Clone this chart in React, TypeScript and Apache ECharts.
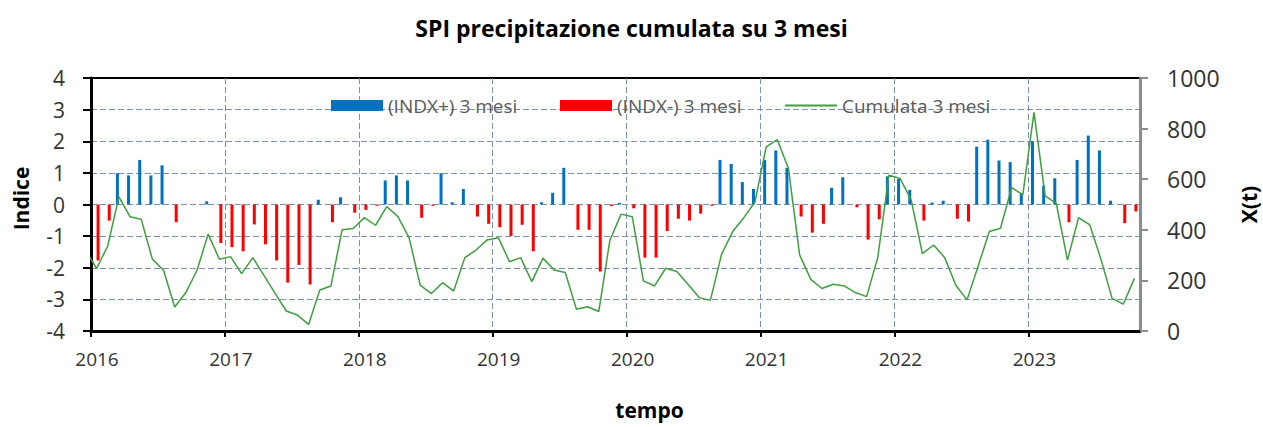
import React, { useEffect, useRef } from "react";
import * as echarts from "echarts";

// Monthly SPI (3 months), Jan 2016 .. Oct 2023 (signed: positive -> INDX+, negative -> INDX-)
const spi2016 = [-1.77, -0.51, 0.99, 0.92, 1.41, 0.92, 1.24, -0.56, 0, 0, 0.1, -1.22];
const spi2017 = [-1.35, -1.48, -0.63, -1.26, -1.77, -2.47, -1.91, -2.53, 0.15, -0.56, 0.23, -0.26];
const spi2018 = [-0.17, -0.04, 0.76, 0.92, 0.76, -0.42, -0.04, 0.99, 0.07, 0.49, -0.38, -0.61];
const spi2019 = [-0.72, -1.0, -0.64, -1.48, 0.07, 0.37, 1.16, -0.8, -0.8, -2.12, -0.05, 0.05];
const spi2020 = [-0.12, -1.68, -1.68, -0.84, -0.45, -0.51, -0.29, -0.04, 1.41, 1.28, 0.71, 0.49];
const spi2021 = [1.41, 1.71, 1.16, -0.38, -0.89, -0.61, 0.53, 0.86, -0.09, -1.11, -0.47, 0.89];
const spi2022 = [0.81, 0.46, -0.51, 0.06, 0.12, -0.45, -0.54, 1.83, 2.05, 1.39, 1.34, 0.36];
const spi2023 = [2.0, 0.6, 0.83, -0.56, 1.41, 2.18, 1.71, 0.12, -0.59, -0.22];

// Cumulata 3 mesi X(t), Dec 2015 .. Oct 2023
const cum2015 = [320];
const cum2016 = [247, 336, 530, 452, 442, 284, 240, 95, 152, 240, 383, 284];
const cum2017 = [294, 227, 290, 220, 149, 79, 63, 26, 162, 178, 400, 405];
const cum2018 = [448, 418, 492, 452, 369, 181, 148, 191, 158, 290, 320, 360];
const cum2019 = [369, 274, 290, 195, 288, 241, 231, 86, 96, 77, 359, 462];
const cum2020 = [452, 198, 178, 248, 235, 185, 132, 121, 303, 393, 448, 510];
const cum2021 = [728, 756, 642, 301, 204, 168, 185, 178, 152, 136, 290, 616];
const cum2022 = [603, 517, 306, 340, 290, 181, 123, 257, 393, 406, 567, 538];
const cum2023 = [864, 534, 504, 280, 448, 419, 284, 129, 106, 208];

const startYear = 2016;
const endYear = 2023 + 10 / 12;
const seriesNames = ["(INDX+) 3 mesi", "(INDX-) 3 mesi", "Cumulata 3 mesi"];

const FONT = "'Open Sans', 'Noto Sans', sans-serif";

export default function App() {
  const ref = useRef<HTMLDivElement>(null);

  useEffect(() => {
    document.body.style.margin = "0";
    const chart = echarts.init(ref.current!, undefined, { renderer: "svg" });

    const spi = [
      ...spi2016, ...spi2017, ...spi2018, ...spi2019,
      ...spi2020, ...spi2021, ...spi2022, ...spi2023,
    ];
    const cum = [
      ...cum2015, ...cum2016, ...cum2017, ...cum2018, ...cum2019,
      ...cum2020, ...cum2021, ...cum2022, ...cum2023,
    ];
    const monthX = (i: number) => startYear + (i + 0.5) / 12;
    const pos = spi.map((v, i) => [monthX(i), v > 0 ? v : 0]);
    const neg = spi.map((v, i) => [monthX(i), v < 0 ? v : 0]);
    const line = cum.map((v, i) => [monthX(i - 1), v]);

    const gridColor = "#7891b6";
    const green = "#3f9f3f";
    const legendText = { fontFamily: FONT, fontSize: 19, color: "#595959" };

    chart.setOption({
      animation: false,
      textStyle: { fontFamily: FONT },
      title: {
        text: "SPI precipitazione cumulata su 3 mesi",
        left: "center",
        top: 11,
        textStyle: { fontFamily: FONT, fontSize: 23, fontWeight: "bold", color: "#000" },
      },
      legend: [
        {
          data: [{ name: seriesNames[0], icon: "rect" }],
          left: 331, top: 96, itemWidth: 52, itemHeight: 11, itemGap: 0, padding: 0,
          textStyle: legendText,
        },
        {
          data: [{ name: seriesNames[1], icon: "rect" }],
          left: 560, top: 96, itemWidth: 52, itemHeight: 11, itemGap: 0, padding: 0,
          textStyle: legendText,
        },
        {
          data: [{ name: seriesNames[2], icon: "rect", itemStyle: { color: green } }],
          left: 785, top: 96, itemWidth: 52, itemHeight: 2, itemGap: 0, padding: 0,
          textStyle: legendText,
        },
      ],
      grid: {
        left: 91, right: 123, top: 78, bottom: 96,
        show: true, borderColor: "#000", borderWidth: 2,
        containLabel: false,
        outerBoundsMode: "none",
      },
      xAxis: {
        type: "value",
        min: startYear,
        max: endYear,
        interval: 1,
        name: "tempo",
        nameLocation: "middle",
        nameGap: 68,
        nameTextStyle: {
          fontFamily: FONT, fontSize: 21, fontWeight: "bold", color: "#000",
          padding: [0, 0, 0, 68],
        },
        axisLine: { show: true, onZero: false, lineStyle: { color: "#000", width: 3 } },
        axisTick: { show: true, length: 6, lineStyle: { color: "#000", width: 2 } },
        axisLabel: {
          showMaxLabel: false,
          margin: 18,
          fontSize: 19,
          color: "#333",
          padding: [0, 0, 0, 12],
          formatter: (v: number) => (Math.abs(v - Math.round(v)) < 1e-6 ? String(Math.round(v)) : ""),
        },
        splitLine: {
          show: true, showMinLine: false, showMaxLine: false,
          lineStyle: { color: gridColor, type: [6, 3], width: 1 },
        },
      },
      yAxis: [
        {
          type: "value",
          min: -4,
          max: 4,
          interval: 1,
          name: "Indice",
          nameLocation: "middle",
          nameRotate: 90,
          nameGap: 60,
          nameTextStyle: {
            fontFamily: FONT, fontSize: 21, fontWeight: "bold", color: "#000",
            padding: [0, 0, 0, 12],
          },
          axisLine: { show: true, onZero: false, lineStyle: { color: "#000", width: 3 } },
          axisTick: { show: true, length: 8, lineStyle: { color: "#000", width: 2 } },
          axisLabel: { margin: 26, fontSize: 21, color: "#333" },
          splitLine: {
            show: true, showMinLine: false, showMaxLine: false,
            lineStyle: { color: gridColor, type: [6, 3], width: 1 },
          },
        },
        {
          type: "value",
          min: 0,
          max: 1000,
          interval: 200,
          name: "X(t)",
          nameLocation: "middle",
          nameRotate: 90,
          nameGap: 98,
          nameTextStyle: { fontFamily: FONT, fontSize: 21, fontWeight: "bold", color: "#000" },
          axisLine: { show: true, onZero: false, lineStyle: { color: "#8c8c8c", width: 3 } },
          axisTick: { show: true, length: 8, lineStyle: { color: "#8c8c8c", width: 2 } },
          axisLabel: { margin: 27, fontSize: 23, color: "#333", formatter: (v: number) => String(v) },
          splitLine: { show: false },
        },
      ],
      series: [
        {
          name: seriesNames[0],
          type: "bar",
          data: pos,
          barWidth: 3,
          barGap: "0%",
          itemStyle: { color: "#0070c0" },
        },
        {
          name: seriesNames[1],
          type: "bar",
          data: neg,
          barWidth: 3,
          barGap: "0%",
          itemStyle: { color: "#ff0000" },
        },
        {
          name: seriesNames[2],
          type: "line",
          yAxisIndex: 1,
          data: line,
          symbol: "none",
          clip: true,
          lineStyle: { color: green, width: 1.5 },
          itemStyle: { color: green },
          z: 3,
        },
      ],
    });

    return () => chart.dispose();
  }, []);

  return <div ref={ref} style={{ width: 1263, height: 427 }} />;
}
